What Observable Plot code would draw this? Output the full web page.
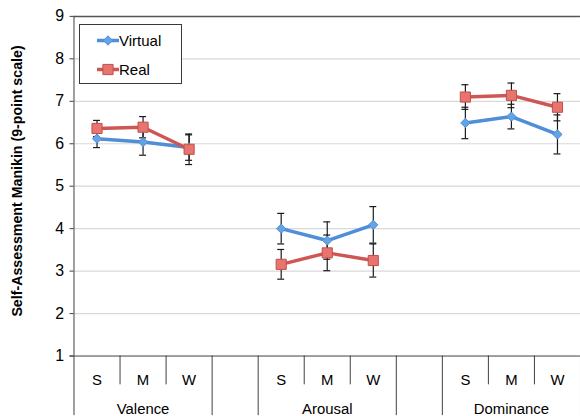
<!DOCTYPE html>
<html>
<head>
<meta charset="utf-8">
<script src="https://cdn.jsdelivr.net/npm/d3@7"></script>
<script src="https://cdn.jsdelivr.net/npm/@observablehq/plot@0.6"></script>
<style>
  html, body { margin: 0; padding: 0; background: #fff; overflow: hidden; }
  #wrap { position: relative; width: 580px; height: 416px; overflow: hidden; font-family: "Liberation Sans", Arial, sans-serif; }
  #legend { position: absolute; left: 79px; top: 24px; }
  #ytitle { position: absolute; left: 17px; top: 181px; transform: translate(-50%, -50%) rotate(-90deg); white-space: nowrap; font-weight: bold; font-size: 14.2px; color: #000; }
</style>
</head>
<body>
<div id="wrap"></div>
<script>
// ---- data ----
const groups = ["Valence", "Arousal", "Dominance"];
const levels = ["S", "M", "W"];
const seriesNames = ["Virtual", "Real"];
const virtualMean = [6.12, 6.04, 5.91, 4.00, 3.72, 4.09, 6.49, 6.64, 6.22];
const virtualErr  = [0.21, 0.31, 0.30, 0.36, 0.44, 0.43, 0.37, 0.29, 0.46];
const realMean    = [6.36, 6.39, 5.87, 3.16, 3.43, 3.25, 7.10, 7.14, 6.86];
const realErr     = [0.19, 0.25, 0.36, 0.35, 0.42, 0.39, 0.29, 0.29, 0.32];
const yTicks = [1, 2, 3, 4, 5, 6, 7, 8, 9];
const yTitle = "Self-Assessment Manikin (9-point scale)";

const colors = { Virtual: { line: "#4f8fd8", fill: "#65a3e6", stroke: "#4f8fd8" },
                 Real:    { line: "#cf5753", fill: "#e8746f", stroke: "#c0504d" } };

// slot layout: 3 levels per group plus one empty slot between groups
const slot = (gi, li) => gi * 4 + li;
const rows = [];
groups.forEach((g, gi) => levels.forEach((l, li) => {
  const i = gi * 3 + li;
  rows.push({ series: "Virtual", group: g, level: l, pos: slot(gi, li), mean: virtualMean[i], err: virtualErr[i] });
  rows.push({ series: "Real", group: g, level: l, pos: slot(gi, li), mean: realMean[i], err: realErr[i] });
}));
const levelPos = [], levelLab = {};
groups.forEach((g, gi) => levels.forEach((l, li) => { levelPos.push(slot(gi, li)); levelLab[slot(gi, li)] = l; }));
const groupCenters = groups.map((g, gi) => slot(gi, 1));
const groupLab = {}; groups.forEach((g, gi) => groupLab[slot(gi, 1)] = g);
const innerSeps = [], groupSeps = [];
groups.forEach((g, gi) => {
  innerSeps.push(slot(gi, 0) + 0.5, slot(gi, 1) + 0.5);
  groupSeps.push(slot(gi, 0) - 0.5, slot(gi, 2) + 0.5);
});

const axisColor = "#404040";
const font = "Liberation Sans, Arial, sans-serif";

const chart = Plot.plot({
  width: 584, height: 416,
  marginLeft: 74, marginRight: 0, marginTop: 16, marginBottom: 58,
  style: { fontFamily: font, color: "#000", background: "#fff", overflow: "visible" },
  x: { domain: [-0.5, slot(2, 2) + 0.5], axis: null },
  y: { domain: [1, 9], axis: null },
  marks: [
    Plot.ruleY(yTicks.filter(t => t > 1 && t < 9), { stroke: "#d9d9d9", strokeWidth: 1.2 }),
    Plot.ruleY([9], { stroke: "#555", strokeWidth: 1.5 }),
    Plot.axisY({ ticks: yTicks, tickSize: 4, tickPadding: 6, fontSize: 16, label: null, stroke: axisColor, tickFormat: d => d }),
    Plot.ruleX([-0.5], { stroke: axisColor }),
    Plot.ruleY([1], { stroke: axisColor, insetLeft: -4 }),
    Plot.axisX({ ticks: innerSeps, tickSize: 29, tickFormat: () => "", label: null, stroke: axisColor }),
    Plot.axisX({ ticks: groupSeps, tickSize: 60, tickFormat: () => "", label: null, stroke: axisColor }),
    Plot.axisX({ ticks: levelPos, tickSize: 0, tickPadding: 19, fontSize: 15, tickFormat: d => levelLab[d], label: null }),
    Plot.axisX({ ticks: groupCenters, tickSize: 0, tickPadding: 48, fontSize: 15, tickFormat: d => groupLab[d], label: null }),
    // error bars
    Plot.ruleX(rows, { x: "pos", y1: d => d.mean - d.err, y2: d => d.mean + d.err, stroke: "#1a1a1a", strokeWidth: 1.2 }),
    Plot.ruleY(rows, { x1: "pos", x2: "pos", y: d => d.mean + d.err, insetLeft: -3.5, insetRight: -3.5, stroke: "#1a1a1a", strokeWidth: 1.2 }),
    Plot.ruleY(rows, { x1: "pos", x2: "pos", y: d => d.mean - d.err, insetLeft: -3.5, insetRight: -3.5, stroke: "#1a1a1a", strokeWidth: 1.2 }),
    // lines
    ...seriesNames.map(s => Plot.line(rows.filter(d => d.series === s), { x: "pos", y: "mean", z: "group", stroke: colors[s].line, strokeWidth: 3.5 })),
    // markers
    Plot.dot(rows.filter(d => d.series === "Virtual"), { x: "pos", y: "mean", symbol: "diamond2", r: 4.2, fill: colors.Virtual.fill, stroke: colors.Virtual.stroke, strokeWidth: 1 }),
    Plot.dot(rows.filter(d => d.series === "Real"), { x: "pos", y: "mean", symbol: "square2", r: 6.5, fill: colors.Real.fill, stroke: colors.Real.stroke, strokeWidth: 1 })
  ]
});

const wrap = document.getElementById("wrap");
wrap.appendChild(chart);

// y axis title
const t = document.createElement("div");
t.id = "ytitle"; t.textContent = yTitle;
wrap.appendChild(t);

// legend
const lg = d3.create("svg").attr("id", "legend").attr("width", 104).attr("height", 61)
  .style("font-family", font).style("font-size", "15px");
lg.append("rect").attr("x", 0.5).attr("y", 0.5).attr("width", 102).attr("height", 59)
  .attr("fill", "#fff").attr("stroke", "#3a3a3a");
seriesNames.forEach((s, i) => {
  const cy = 16.5 + i * 29;
  lg.append("line").attr("x1", 18).attr("x2", 40).attr("y1", cy).attr("y2", cy)
    .attr("stroke", colors[s].line).attr("stroke-width", 3.5);
  if (s === "Virtual") {
    lg.append("path").attr("d", d3.symbol(d3.symbolDiamond2, Math.PI * 4.2 * 4.2)()).attr("transform", `translate(29,${cy})`)
      .attr("fill", colors[s].fill).attr("stroke", colors[s].stroke);
  } else {
    lg.append("path").attr("d", d3.symbol(d3.symbolSquare2, Math.PI * 6.5 * 6.5)()).attr("transform", `translate(29,${cy})`)
      .attr("fill", colors[s].fill).attr("stroke", colors[s].stroke);
  }
  lg.append("text").attr("x", 40).attr("y", cy).attr("dy", "0.35em").text(s);
});
wrap.appendChild(lg.node());
</script>
</body>
</html>
